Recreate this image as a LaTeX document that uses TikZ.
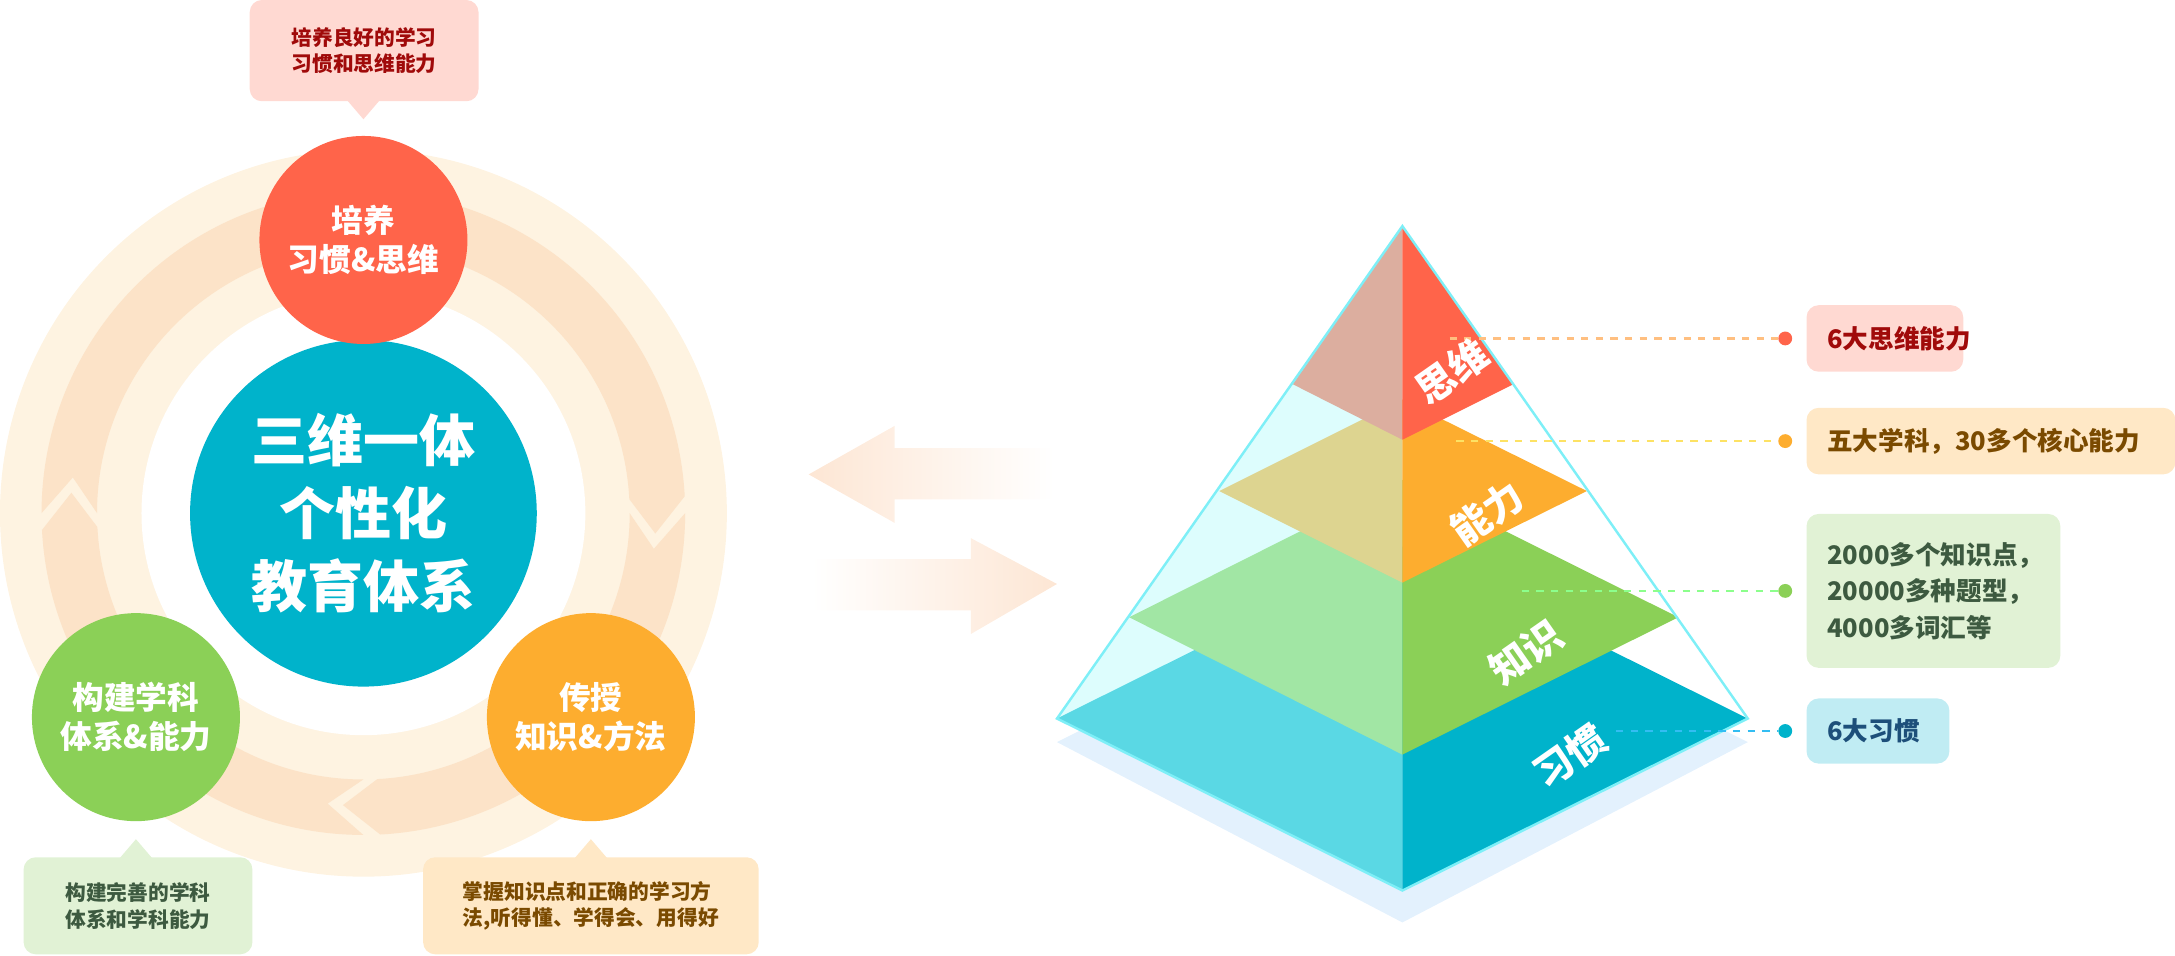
\documentclass[tikz,border=0pt]{standalone}
\usepackage{fontspec}
\setmainfont{Noto Sans CJK SC}
\usetikzlibrary{positioning}
\definecolor{bgring}{HTML}{FEF3E1}
\definecolor{band}{HTML}{FCE3C8}
\definecolor{tealc}{HTML}{00B3CB}
\definecolor{tealL}{HTML}{5AD8E4}
\definecolor{redc}{HTML}{FF644A}
\definecolor{redL}{HTML}{DCAE9F}
\definecolor{greenc}{HTML}{8BD057}
\definecolor{greenL}{HTML}{A1E6A4}
\definecolor{orangec}{HTML}{FDAD2F}
\definecolor{orangeL}{HTML}{DDD490}
\definecolor{pinkbox}{HTML}{FFD9D2}
\definecolor{creambox}{HTML}{FFE8C6}
\definecolor{mintbox}{HTML}{E1F2D5}
\definecolor{cyanbox}{HTML}{C0ECF3}
\definecolor{glass}{HTML}{DDFDFD}
\definecolor{glassline}{HTML}{7EEFF7}
\definecolor{shadowc}{HTML}{E3F1FD}
\definecolor{peach}{HTML}{FDE6D4}
\definecolor{redtxt}{HTML}{A00A0A}
\definecolor{browntxt}{HTML}{7A4A00}
\definecolor{greentxt}{HTML}{3D5A40}
\definecolor{bluetxt}{HTML}{1D4F7A}
\tikzset{
  bubble/.style={circle, minimum size=3cm, text=white, font=\bfseries\fontsize{13}{16}\selectfont, align=center},
  callout/.style={rounded corners=5pt, inner sep=0pt, font=\bfseries\fontsize{8.5}{11}\selectfont, align=left},
  tier/.style={text=white, font=\bfseries\fontsize{16}{16}\selectfont, rotate=35, inner sep=0pt},
  tag/.style={rounded corners=5pt, inner xsep=0.3cm, inner ysep=0pt, font=\bfseries\fontsize{10.5}{15}\selectfont, align=left, anchor=west},
  dot/.style={circle, inner sep=0pt, minimum size=0.2cm},
  leader/.style={dashed, line width=1pt}
}
\begin{document}
\begin{tikzpicture}[x=0.02cm, y=0.02cm]
        \useasboundingbox (0,0) rectangle (1568,-689);

        % background disc with arrow ring
        \fill[bgring] (262,-370) circle (262);
        \begin{scope}[xshift=5.24cm, yshift=-7.4cm]
          \foreach \a/\b in {180/93, 90/3, 0/-87, -90/-177}
            \fill[band] (\a:232) arc[start angle=\a, end angle=\b, radius=232]
              -- (\b-7:211) -- (\b:192) arc[start angle=\b, end angle=\a, radius=192]
              -- (\a-7:211) -- cycle;
        \end{scope}
        \fill[white] (262,-370) circle (160);

        % centre and bubbles
        \node[circle, fill=tealc, minimum size=5cm, text=white, align=center,
              font=\bfseries\fontsize{23}{30}\selectfont] (core) at (262,-370) {三维一体\\个性化\\教育体系};
        \node[bubble, fill=redc] (habit) at (262,-173) {培养\\习惯\&思维};
        \node[bubble, fill=greenc] (system) at (98,-517) {构建学科\\体系\&能力};
        \node[bubble, fill=orangec] (method) at (426,-517) {传授\\知识\&方法};

        % callouts
        \node[callout, fill=pinkbox, text=redtxt, minimum width=3.3cm, minimum height=1.46cm] (habitnote) at (262.5,-36.5) {培养良好的学习\\习惯和思维能力};
        \fill[pinkbox] (250,-72) -- (274,-72) -- (262,-86) -- cycle;
        \node[callout, fill=mintbox, text=greentxt, minimum width=3.3cm, minimum height=1.4cm] (systemnote) at (99.5,-653) {构建完善的学科\\体系和学科能力};
        \fill[mintbox] (86,-619) -- (110,-619) -- (98,-605) -- cycle;
        \node[callout, fill=creambox, text=browntxt, minimum width=4.84cm, minimum height=1.4cm] (methodnote) at (426,-653) {掌握知识点和正确的学习方\\法,听得懂、学得会、用得好};
        \fill[creambox] (414,-619) -- (438,-619) -- (426,-605) -- cycle;

        % exchange arrows
        \shade[left color=peach, right color=white] (583,-342) -- (645,-307) -- (645,-323) -- (760,-323)
          -- (760,-360) -- (645,-360) -- (645,-377) -- cycle;
        \shade[left color=white, right color=peach] (762,-421) -- (700,-388) -- (700,-403) -- (585,-403)
          -- (585,-440) -- (700,-440) -- (700,-457) -- cycle;

        % pyramid
        \coordinate (apex) at (1011,-163);
        \coordinate (baseL) at (762,-518);
        \coordinate (baseF) at (1011,-642);
        \coordinate (baseR) at (1260,-518);
        \fill[shadowc] (762,-535) -- (1011,-410) -- (1260,-535) -- (1011,-665) -- cycle;
        \fill[glass] (apex) -- (baseL) -- (baseF) -- cycle;
        \fill[white] (apex) -- (baseF) -- (baseR) -- cycle;
        \fill[tealL] (baseL) -- (1011,-394) -- (baseF) -- cycle;
        \fill[tealc] (1011,-394) -- (baseR) -- (baseF) -- cycle;
        \fill[greenL] (814,-445) -- (1011,-346) -- (1011,-544) -- cycle;
        \fill[greenc] (1011,-346) -- (1210,-445) -- (1011,-544) -- cycle;
        \fill[orangeL] (879,-354) -- (1011,-288) -- (1011,-420) -- cycle;
        \fill[orangec] (1011,-288) -- (1144,-354) -- (1011,-420) -- cycle;
        \fill[redL] (apex) -- (932,-277) -- (1011,-317) -- cycle;
        \fill[redc] (apex) -- (1091,-277) -- (1011,-317) -- cycle;
        \draw[glassline, line width=1pt] (baseL) -- (apex) -- (baseR) -- (baseF) -- cycle;

        % tags
        \node[dot, fill=redc] (d1) at (1287,-244) {};
        \node[dot, fill=orangec] (d2) at (1287,-318) {};
        \node[dot, fill=greenc] (d3) at (1287,-426) {};
        \node[dot, fill=tealc] (d4) at (1287,-527) {};
        \draw[leader, orange!50] (1045,-244) -- (d1);
        \draw[leader, yellow!70!orange!60] (1050,-318) -- (d2);
        \draw[leader, green!45] (1097,-426) -- (d3);
        \draw[leader, cyan!80] (1165,-527) -- (d4);

        \node[tier] (thinking) at (1047,-268) {思维};
        \node[tier] (ability) at (1072,-370) {能力};
        \node[tier] (knowledge) at (1100,-470) {知识};
        \node[tier] (custom) at (1132,-545) {习惯};

        \node[tag, fill=pinkbox, text=redtxt, text width=1.66cm, minimum height=0.96cm] (t1) at (1302,-244) {6大思维能力};
        \node[tag, fill=creambox, text=browntxt, text width=4.72cm, minimum height=0.96cm] (t2) at (1302,-318) {五大学科，30多个核心能力};
        \node[tag, fill=mintbox, text=greentxt, text width=3.06cm, minimum height=2.22cm] (t3) at (1302,-426) {2000多个知识点，\\20000多种题型，\\4000多词汇等};
        \node[tag, fill=cyanbox, text=bluetxt, text width=1.46cm, minimum height=0.94cm] (t4) at (1302,-527) {6大习惯};
\end{tikzpicture}
\end{document}
